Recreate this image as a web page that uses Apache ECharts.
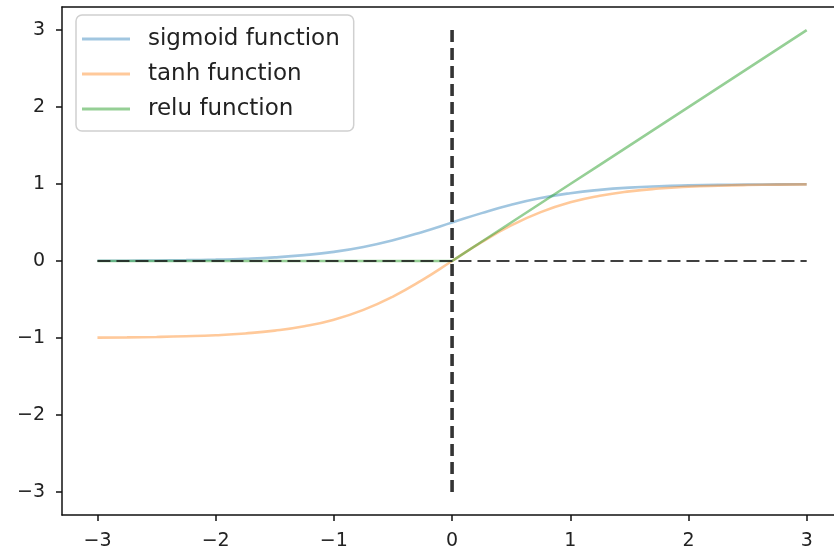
<!DOCTYPE html>
<html>
<head>
<meta charset="utf-8">
<script src="https://cdn.jsdelivr.net/npm/echarts@6/dist/echarts.min.js"></script>
<style>html,body{margin:0;padding:0;background:#fff;overflow:hidden}#c{width:834px;height:555px}</style>
</head>
<body>
<div id="c"></div>
<script>
const xs = [-3,-2.75,-2.5,-2.25,-2,-1.75,-1.5,-1.25,-1,-0.75,-0.5,-0.25,0,0.25,0.5,0.75,1,1.25,1.5,1.75,2,2.25,2.5,2.75,3];
const sigmoidVals = [0.003,0.004,0.007,0.011,0.018,0.029,0.047,0.076,0.119,0.182,0.269,0.378,0.5,0.622,0.731,0.818,0.881,0.924,0.953,0.971,0.982,0.989,0.993,0.996,0.998];
const tanhVals = [-0.995,-0.992,-0.987,-0.978,-0.964,-0.941,-0.905,-0.848,-0.762,-0.635,-0.462,-0.245,0,0.245,0.462,0.635,0.762,0.848,0.905,0.941,0.964,0.978,0.987,0.992,0.995];
const reluVals = [0,0,0,0,0,0,0,0,0,0,0,0,0,0.25,0.5,0.75,1,1.25,1.5,1.75,2,2.25,2.5,2.75,3];
const hLine = [[-3,0],[3,0]];
const vLine = [[0,-3],[0,3]];
const tickVals = [-3,-2,-1,0,1,2,3];
const seriesNames = ['sigmoid function','tanh function','relu function'];

const zip = (a,b) => a.map((v,i)=>[v,b[i]]);
const fmt = v => (v<0 ? '\u2212'+Math.abs(v) : String(v));
const font = 'DejaVu Sans';
const spine = {show:true, onZero:false, lineStyle:{color:'#111', width:1.5}};

const chart = echarts.init(document.getElementById('c'), null, {renderer:'canvas'});
chart.setOption({
  animation:false,
  backgroundColor:'#fff',
  grid:{left:62, top:7, width:772, height:508},
  xAxis:[
    {type:'value', min:-3.3, max:3.231, position:'bottom',
      axisLine:spine, splitLine:{show:false},
      axisTick:{show:true, inside:false, length:6, lineStyle:{color:'#111', width:1.5}, customValues:tickVals},
      axisLabel:{customValues:tickVals, formatter:fmt, margin:17, color:'#222', fontSize:19, fontFamily:font}},
    {type:'value', min:-3.3, max:3.231, position:'top',
      axisLine:spine, splitLine:{show:false}, axisTick:{show:false}, axisLabel:{show:false}}
  ],
  yAxis:{type:'value', min:-3.3, max:3.3,
    axisLine:spine, splitLine:{show:false},
    axisTick:{show:true, inside:false, length:6, lineStyle:{color:'#111', width:1.5}, customValues:tickVals},
    axisLabel:{customValues:tickVals, formatter:fmt, margin:17, color:'#222', fontSize:19, fontFamily:font}},
  legend:{orient:'vertical', left:76, top:15, data:seriesNames, icon:'rect',
    backgroundColor:'rgba(255,255,255,0.85)', borderColor:'#d0d0d0', borderWidth:1.5, borderRadius:6,
    padding:[11,14,9,6], itemWidth:48, itemHeight:3, itemGap:9,
    textStyle:{fontSize:23, lineHeight:26, fontFamily:font, color:'#222', padding:[0,0,0,13]}},
  series:[
    {name:seriesNames[0], type:'line', data:zip(xs,sigmoidVals), smooth:true, symbol:'none', z:2,
      lineStyle:{color:'rgba(31,119,180,0.42)', width:2.6}, itemStyle:{color:'rgba(31,119,180,0.42)'}},
    {name:seriesNames[1], type:'line', data:zip(xs,tanhVals), smooth:true, symbol:'none', z:3,
      lineStyle:{color:'rgba(255,127,14,0.42)', width:2.6}, itemStyle:{color:'rgba(255,127,14,0.42)'}},
    {name:seriesNames[2], type:'line', data:zip(xs,reluVals), symbol:'none', z:4,
      lineStyle:{color:'rgba(44,160,44,0.5)', width:2.6}, itemStyle:{color:'rgba(44,160,44,0.5)'}},
    {name:'h', type:'line', data:hLine, symbol:'none', z:5, silent:true,
      lineStyle:{color:'rgba(30,30,30,0.85)', width:1.8, type:[13,6]}},
    {name:'v', type:'line', data:vLine, symbol:'none', z:6, silent:true,
      lineStyle:{color:'rgba(30,30,30,0.9)', width:3.6, type:[12,6]}}
  ]
});
</script>
</body>
</html>
